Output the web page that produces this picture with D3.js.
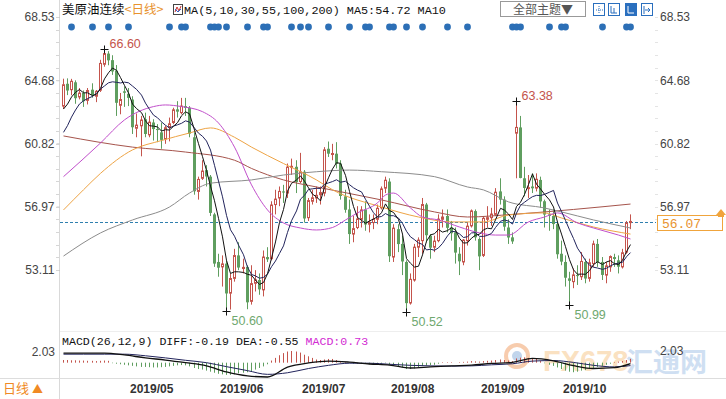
<!DOCTYPE html>
<html>
<head>
<meta charset="utf-8">
<script src="https://cdn.jsdelivr.net/npm/d3@7"></script>
<style>
  body { margin: 0; background: #fff; }
  svg { display: block; }
</style>
</head>
<body>
<div id="chart"></div>
<script>
// ---- data: WTI daily candles 2019-04-08 .. 2019-10-24 ----
const opens = [
  63.10,64.46,64.10,64.55,63.66,63.90,63.45,64.10,63.70,64.07,
  65.65,66.30,65.90,65.26,63.15,64.00,63.85,63.50,61.75,61.90,
  62.30,61.35,62.10,61.70,61.50,61.10,61.80,62.10,62.90,62.70,
  63.10,63.00,61.20,57.90,58.70,59.20,58.80,56.50,53.60,53.30,
  53.50,51.70,52.60,54.00,53.20,53.30,51.20,52.30,52.50,51.90,
  53.90,53.80,57.10,57.50,57.90,57.80,59.40,59.40,58.50,59.10,
  56.30,57.30,57.50,57.70,57.80,60.50,60.20,60.20,59.60,57.60,
  56.80,55.30,55.70,56.20,56.80,55.90,56.00,56.20,56.90,58.10,
  58.50,53.90,55.60,54.70,53.60,51.10,52.50,54.50,54.90,57.10,
  55.20,54.50,54.90,56.20,56.40,55.70,55.40,54.10,53.60,54.90,
  55.80,56.70,55.00,54.00,56.20,56.30,56.50,57.90,57.40,55.70,
  55.10,61.45,61.80,58.70,58.10,58.20,58.10,58.60,57.30,56.50,
  56.40,55.90,54.10,53.60,52.60,52.40,52.80,52.70,53.60,52.60,
  53.50,54.70,53.60,52.80,53.30,53.90,53.70,53.30,54.20,56.00
];
const highs = [
  64.77,64.79,64.76,64.67,64.20,64.05,64.20,64.49,64.08,65.92,
  66.60,66.45,66.20,65.60,63.90,64.30,64.20,63.70,62.65,62.50,
  62.70,62.50,62.30,62.00,62.10,61.90,62.40,63.00,63.40,63.60,
  63.60,63.10,61.50,58.80,59.80,59.50,58.90,56.60,54.10,54.00,
  53.70,52.90,54.40,54.80,53.80,53.40,53.40,53.10,52.90,54.30,
  54.50,57.30,58.00,58.20,58.30,59.60,59.90,59.80,60.25,59.20,
  57.50,58.00,58.20,58.20,60.60,60.94,60.80,60.90,59.80,58.00,
  57.40,56.40,57.00,57.00,57.30,56.50,56.50,57.10,58.20,58.80,
  58.70,55.90,55.90,55.20,53.70,52.90,54.70,55.10,57.50,57.20,
  55.30,55.20,56.50,56.80,56.80,56.10,55.70,54.50,55.00,56.00,
  56.80,56.80,55.10,56.40,57.00,56.90,58.10,58.70,57.60,56.20,
  55.40,63.38,62.50,59.40,58.90,59.00,59.00,58.80,57.40,56.80,
  56.80,56.00,54.90,54.00,53.00,53.20,53.40,54.20,53.80,53.80,
  54.90,55.00,53.90,53.60,54.00,54.10,54.00,54.40,56.10,56.50
];
const lows = [
  62.92,63.77,63.76,63.24,63.51,63.05,63.20,63.61,63.34,63.96,
  65.50,65.59,65.00,62.50,62.60,63.05,63.10,61.40,61.20,60.04,
  61.20,61.20,61.00,60.90,60.50,60.80,60.95,62.00,62.40,62.60,
  62.50,61.20,57.70,57.40,58.60,58.20,56.40,53.30,52.70,52.10,
  50.60,50.70,52.40,53.10,52.90,50.72,51.00,51.80,51.60,51.50,
  53.60,53.70,56.50,57.00,57.20,57.50,58.90,57.80,58.40,56.00,
  56.10,57.10,57.20,57.10,57.60,60.00,59.80,59.30,57.40,56.60,
  54.70,54.80,55.60,55.70,55.50,55.40,55.60,55.90,56.80,57.80,
  53.60,53.60,54.20,52.80,50.52,51.00,52.40,53.90,54.10,54.80,
  53.80,54.20,54.80,55.70,55.40,54.90,53.50,52.80,53.40,54.60,
  55.70,54.90,53.10,53.90,55.70,55.80,56.40,57.10,55.50,54.70,
  54.70,58.70,58.70,57.60,57.50,57.80,57.90,56.90,55.70,55.50,
  55.60,53.80,53.40,52.10,50.99,52.00,52.20,52.50,52.30,52.40,
  53.30,53.30,52.50,52.30,53.00,53.30,52.90,53.20,54.10,55.60
];
const closes = [
  64.40,64.05,64.61,63.58,63.89,63.40,64.05,63.76,64.00,65.70,
  66.30,65.89,65.21,63.30,63.50,63.91,63.60,61.81,61.94,62.25,
  61.40,62.12,61.70,61.66,61.04,61.78,62.02,62.87,62.76,63.10,
  62.99,61.42,57.91,58.63,59.14,58.81,56.59,53.50,53.25,53.48,
  51.68,52.59,53.99,53.26,53.27,51.14,52.28,52.51,51.93,53.90,
  53.76,57.07,57.43,57.90,57.83,59.38,59.43,58.47,59.09,56.25,
  57.34,57.51,57.66,57.83,60.43,60.20,60.21,59.58,57.62,56.78,
  55.30,55.63,56.22,56.77,55.88,56.02,56.20,56.87,58.05,58.58,
  53.95,55.66,54.69,53.63,51.09,52.54,54.50,54.93,57.10,55.23,
  54.47,54.87,56.21,56.34,55.68,55.35,54.17,53.64,54.93,55.78,
  56.71,55.10,53.94,56.26,56.30,56.52,57.85,57.40,55.75,55.09,
  54.85,61.80,58.72,58.11,58.13,58.09,58.64,57.29,56.49,56.41,
  55.91,54.07,53.62,52.64,52.45,52.81,52.75,53.63,52.59,53.55,
  54.70,53.59,52.81,53.36,53.93,53.78,53.31,54.16,55.97,56.07
];

// moving averages
const ma5 = [
  62.92,63.22,63.65,63.94,64.11,63.91,63.91,63.74,63.82,64.18,
  64.76,65.13,65.42,65.28,64.84,64.36,63.90,63.22,62.95,62.70,
  62.20,61.90,61.88,61.83,61.58,61.66,61.64,61.87,62.09,62.51,
  62.75,62.63,61.64,60.81,60.02,59.18,58.22,57.33,56.26,55.13,
  53.70,52.90,53.00,53.00,52.96,52.85,52.79,52.49,52.23,52.35,
  52.88,53.83,54.82,56.01,56.80,57.92,58.39,58.60,58.84,58.52,
  58.12,57.73,57.57,57.32,58.15,58.73,59.27,59.65,59.61,58.88,
  57.90,56.98,56.31,56.14,55.96,56.10,56.22,56.35,56.60,57.14,
  56.73,56.62,56.19,55.30,53.80,53.52,53.29,53.34,54.03,54.86,
  55.25,55.32,55.58,55.42,55.51,55.69,55.55,55.04,54.75,54.77,
  55.05,55.23,55.29,55.56,55.66,55.62,56.17,56.87,56.76,56.52,
  56.19,56.98,57.24,57.71,58.32,58.97,58.34,58.05,57.73,57.38,
  56.95,56.03,55.30,54.53,53.74,53.12,52.85,52.86,52.85,53.07,
  53.44,53.61,53.45,53.60,53.68,53.49,53.44,53.71,54.23,54.66
];
const ma10 = [
  61.50,61.91,62.43,62.86,63.23,63.42,63.56,63.69,63.88,64.14,
  64.33,64.52,64.58,64.55,64.51,64.56,64.52,64.32,64.12,63.77,
  63.28,62.90,62.55,62.39,62.14,61.93,61.77,61.88,61.96,62.05,
  62.20,62.13,61.76,61.45,61.26,60.97,60.42,59.49,58.53,57.57,
  56.44,55.56,55.17,54.63,54.04,53.28,52.84,52.75,52.61,52.66,
  52.86,53.31,53.66,54.12,54.58,55.40,56.11,56.71,57.43,57.66,
  58.02,58.06,58.09,58.08,58.34,58.42,58.50,58.61,58.46,58.52,
  58.31,58.12,57.98,57.87,57.42,57.00,56.60,56.33,56.37,56.55,
  56.42,56.42,56.27,55.95,55.47,55.13,54.96,54.76,54.67,54.33,
  54.38,54.31,54.46,54.73,55.19,55.47,55.44,55.31,55.09,55.14,
  55.37,55.39,55.16,55.16,55.22,55.34,55.70,56.08,56.16,56.09,
  55.91,56.58,57.05,57.24,57.42,57.58,57.66,57.65,57.72,57.85,
  57.96,57.19,56.68,56.13,55.56,55.03,54.44,54.08,53.69,53.40,
  53.28,53.23,53.15,53.22,53.37,53.47,53.53,53.58,53.92,54.17
];
// slower averages, sampled as [candle index, value]
const ma30 = [[0,58.80],[9,60.85],[15,62.26],[22,63.07],[25,63.17],[29,63.07],[34,62.76],[38,62.07],[42,60.6],[46,58.3],[50,56.77],[54,55.98],[58,55.67],[62,55.55],[66,55.7],[69,56.16],[72,56.59],[77,57.2],[79,57.68],[81,57.8],[85,56.89],[88,56.34],[92,56.16],[97,55.73],[102,55.37],[106,55.24],[109,55.24],[114,56.04],[118,56.34],[121,56.59],[126,55.98],[130,55.67],[136,55.24],[139,55.0]];
const ma55 = [[0,56.77],[5,58.0],[9,59.0],[17,60.43],[24,61.0],[31,61.46],[36,61.77],[42,61.2],[46,60.6],[54,59.6],[62,58.6],[66,58.0],[78,56.95],[87,56.34],[95,56.04],[103,56.04],[109,56.46],[118,56.59],[122,56.28],[130,55.73],[139,55.3]];
const ma100 = [[0,53.96],[9,55.37],[17,56.16],[26,56.95],[31,57.8],[36,58.4],[46,58.6],[54,58.9],[62,59.1],[70,59.2],[78,59.1],[91,58.8],[99,58.17],[103,57.99],[109,57.26],[118,56.89],[122,56.65],[130,56.16],[139,55.67]];
const ma200 = [[0,61.28],[17,60.6],[30,60.3],[42,59.8],[46,59.3],[54,58.6],[62,58.17],[78,57.38],[91,56.65],[99,56.34],[110,56.5],[125,56.8],[139,57.13]];

// MACD(26,12,9)
const macdIdx = [0,5,10,15,20,25,30,35,40,45,50,55,60,65,70,75,80,85,90,95,100,105,110,115,120,125,130,135,139];
const diffVals = [1.8,1.8,1.8,1.45,0.9,0.5,0.0,-0.6,-1.75,-2.5,-2.7,-0.85,-0.05,0.3,0.1,-0.25,-0.45,-1.0,-0.8,-0.6,-0.45,-0.15,0.05,0.8,0.35,-0.55,-1.1,-0.95,-0.19];
const deaVals = [1.6,1.6,1.6,1.6,1.3,0.9,0.45,0.0,-0.75,-1.5,-2.2,-1.9,-1.1,-0.5,-0.1,-0.1,-0.3,-0.5,-0.6,-0.65,-0.6,-0.4,-0.2,0.3,0.4,0.05,-0.5,-0.8,-0.55];
const macdHist = [
  0.5,0.5,0.45,0.45,0.4,0.4,0.35,0.35,0.3,0.35,0.4,0.35,
  -0.1,-0.2,-0.3,-0.4,-0.5,-0.6,-0.7,-0.8,-0.8,-0.85,-0.9,-0.9,-0.85,-0.8,-0.7,-0.6,-0.5,-0.45,-0.5,
  -0.7,-1.0,-1.2,-1.3,-1.5,-1.7,-1.9,-2.1,-2.2,-2.3,-2.3,-2.2,-2.0,-1.9,-1.8,-1.6,-1.3,-1.0,-0.7,-0.3,
  0.4,0.9,1.4,1.8,2.1,2.2,2.1,1.9,1.5,1.2,0.9,0.6,
  0.5,0.6,0.7,0.7,0.5,0.3,0.1,-0.1,-0.2,-0.2,-0.2,-0.25,-0.3,
  -0.3,-0.3,-0.2,-0.1,-0.4,-0.5,
  -0.7,-0.9,-1.2,-1.2,-1.1,-0.9,-0.6,-0.5,-0.5,-0.4,-0.2,
  0.1,0.1,0.1,0.0,0.1,0.15,0.2,0.3,0.25,0.2,0.3,0.35,0.4,
  0.5,0.6,0.5,0.4,0.3,0.8,0.95,1.0,0.9,0.8,0.7,
  0.3,-0.1,-0.4,-0.6,-0.9,-1.2,-1.5,-1.7,-1.8,-1.7,-1.5,-1.4,-1.2,-1.0,-0.8,
  -0.6,-0.4,-0.2,0.1,0.2,0.3,0.5,
  0.73
];

const priceTicks = [68.53, 64.68, 60.82, 56.97, 53.11];
const monthTicks = [
  { label: '2019/05', i: 16 }, { label: '2019/06', i: 38 }, { label: '2019/07', i: 58 },
  { label: '2019/08', i: 80 }, { label: '2019/09', i: 102 }, { label: '2019/10', i: 122 }
];
const extremes = [
  { i: 10, v: 66.60, kind: 'high' }, { i: 111, v: 63.38, kind: 'high' },
  { i: 40, v: 50.60, kind: 'low' }, { i: 84, v: 50.52, kind: 'low' }, { i: 124, v: 50.99, kind: 'low' }
];
const newsDots = [2,7,11,16,26,29,30,36,37,38,40,45,49,50,56,58,60,65,70,74,75,80,81,84,88,94,99,110,111,112,119,122,123,132,138,139];
const lastPrice = 56.07;

// ---- drawing ----
const W = 726, H = 399;
const N = closes.length;
const RED = '#c4544c', GREEN = '#5f9e5f';
const sans = 'Arial, "Liberation Sans", sans-serif';
const mono = '"Liberation Mono", "DejaVu Sans Mono", monospace';
const cjk = '"Noto Sans CJK SC", sans-serif';

const svg = d3.select('#chart').append('svg')
  .attr('width', W).attr('height', H)
  .style('font-family', sans);

const x = d3.scaleBand().domain(d3.range(N)).range([60.96, 632.16]);
const cx = i => Math.round(x(i) + x.bandwidth() / 2);
const y = d3.scaleLinear().domain([53.11, 68.53]).range([270, 17]);
const ym = d3.scaleLinear().domain([-3, 2.03]).range([378.6, 351.9]);

// frame lines
svg.append('line').attr('x1', 59.5).attr('x2', 59.5).attr('y1', 0).attr('y2', H).attr('stroke', '#d9d9d9');
svg.append('line').attr('x1', 60).attr('x2', W).attr('y1', 331.5).attr('y2', 331.5).attr('stroke', '#eeeeee');
svg.append('line').attr('x1', 0).attr('x2', W).attr('y1', 378.5).attr('y2', 378.5).attr('stroke', '#dddddd');

// watermark
const wm = svg.append('g').attr('opacity', 0.55);
wm.append('circle').attr('cx', 517).attr('cy', 356).attr('r', 11).attr('fill', 'none').attr('stroke', '#f2a36b').attr('stroke-width', 4);
wm.append('circle').attr('cx', 517).attr('cy', 356).attr('r', 5).attr('fill', '#8fb3dd');
wm.append('text').attr('x', 543).attr('y', 371).text('FX678')
  .attr('font-size', 29).attr('font-weight', 'bold').attr('fill', '#f7c98f').attr('font-family', sans);
wm.append('text').attr('x', 626).attr('y', 372).text('汇通网')
  .attr('font-size', 27).attr('font-weight', 'bold').attr('fill', '#a9c6e8').attr('font-family', cjk);

// price axes
const leftAxis = svg.append('g').attr('transform', 'translate(59.5,0)')
  .call(d3.axisLeft(y).tickValues(priceTicks).tickSize(3).tickPadding(2).tickFormat(d3.format('.2f')));
leftAxis.select('.domain').remove();
leftAxis.selectAll('line').attr('stroke', '#bbb');
leftAxis.selectAll('text').attr('font-size', 12).attr('fill', '#444').attr('font-family', sans);

const minor = d3.range(0, 21).map(k => 53.11 + (68.53 - 53.11) * k / 20);
svg.append('g').selectAll('line').data(minor).join('line')
  .attr('x1', 56).attr('x2', 59).attr('y1', d => Math.round(y(d)) + 0.5).attr('y2', d => Math.round(y(d)) + 0.5)
  .attr('stroke', '#d6d6d6');
svg.append('g').selectAll('line').data(minor).join('line')
  .attr('x1', 655).attr('x2', 658).attr('y1', d => Math.round(y(d)) + 0.5).attr('y2', d => Math.round(y(d)) + 0.5)
  .attr('stroke', '#e4e4e4');

const rightAxis = svg.append('g').attr('transform', 'translate(655,0)')
  .call(d3.axisRight(y).tickValues(priceTicks).tickSize(0).tickPadding(5).tickFormat(d3.format('.2f')));
rightAxis.select('.domain').remove();
rightAxis.selectAll('text').attr('font-size', 12).attr('fill', '#444').attr('font-family', sans);

// last price dashed line
svg.append('line')
  .attr('x1', 60).attr('x2', 656)
  .attr('y1', Math.round(y(lastPrice)) + 1.5).attr('y2', Math.round(y(lastPrice)) + 1.5)
  .attr('stroke', '#2f7fae').attr('stroke-dasharray', '3,2');

// candles
const candles = svg.append('g');
const c = candles.selectAll('g').data(d3.range(N)).join('g');
c.append('line')
  .attr('x1', i => cx(i) + 0.5).attr('x2', i => cx(i) + 0.5)
  .attr('y1', i => y(highs[i])).attr('y2', i => y(lows[i]))
  .attr('stroke', i => closes[i] >= opens[i] ? RED : GREEN);
c.append('rect')
  .attr('x', i => closes[i] >= opens[i] ? cx(i) - 0.5 : cx(i) - 1)
  .attr('width', i => closes[i] >= opens[i] ? 2 : 3)
  .attr('y', i => y(Math.max(opens[i], closes[i])))
  .attr('height', i => Math.max(1, y(Math.min(opens[i], closes[i])) - y(Math.max(opens[i], closes[i]))))
  .attr('fill', i => closes[i] >= opens[i] ? '#fff' : GREEN)
  .attr('stroke', i => closes[i] >= opens[i] ? RED : 'none');

// moving averages
const fullLine = d3.line().x((d, i) => cx(i) + 0.5).y(d => y(d));
const sparseLine = d3.line().x(d => cx(d[0]) + 0.5).y(d => y(d[1])).curve(d3.curveMonotoneX);
const maLayer = svg.append('g').attr('fill', 'none').attr('stroke-width', 1);
maLayer.append('path').attr('d', sparseLine(ma200)).attr('stroke', '#a6544c');
maLayer.append('path').attr('d', sparseLine(ma100)).attr('stroke', '#8c8c8c');
maLayer.append('path').attr('d', sparseLine(ma55)).attr('stroke', '#eea445');
maLayer.append('path').attr('d', sparseLine(ma30)).attr('stroke', '#c14fcb');
maLayer.append('path').attr('d', fullLine(ma10)).attr('stroke', '#22245c');
maLayer.append('path').attr('d', fullLine(ma5)).attr('stroke', '#111');

// extremes
const ex = svg.append('g');
extremes.forEach(e => {
  const px = cx(e.i) + 0.5, py = Math.round(y(e.v)) + 0.5;
  ex.append('line').attr('x1', px - 4).attr('x2', px + 4).attr('y1', py).attr('y2', py).attr('stroke', '#111');
  ex.append('line').attr('x1', px).attr('x2', px).attr('y1', py - 4).attr('y2', py + 4).attr('stroke', '#111');
  ex.append('text')
    .attr('x', px + 5).attr('y', e.kind === 'high' ? py - 2 : py + 13)
    .attr('font-size', 12.5).attr('fill', e.kind === 'high' ? '#c4544c' : '#6fa86f')
    .text(e.v.toFixed(2));
});

// news dots
svg.append('g').selectAll('circle').data(newsDots).join('circle')
  .attr('cx', i => cx(i) + 0.5).attr('cy', 27).attr('r', 3.4).attr('fill', '#2c6fb6');

// header
const hdr = svg.append('text').attr('x', 62).attr('y', 14).attr('font-size', 12.5).attr('font-family', cjk);
hdr.append('tspan').attr('fill', '#111').text('美原油连续');
hdr.append('tspan').attr('fill', '#e8922e').text('<日线>');
svg.append('rect').attr('x', 173.5).attr('y', 4.5).attr('width', 9).attr('height', 10).attr('fill', '#fff').attr('stroke', '#444');
svg.append('polyline').attr('points', '175,12 177,7 179,11 181,6').attr('fill', 'none').attr('stroke', '#c33');
svg.append('polyline').attr('points', '175,9 178,12 181,9').attr('fill', 'none').attr('stroke', '#36c');
svg.append('text').attr('x', 184).attr('y', 14).attr('font-size', 11.8).attr('font-family', mono).attr('fill', '#111')
  .text('MA(5,10,30,55,100,200) MA5:54.72 MA10');

svg.append('rect').attr('x', 500.5).attr('y', 1.5).attr('width', 85).attr('height', 15).attr('fill', '#fff').attr('stroke', '#999');
svg.append('text').attr('x', 543).attr('y', 13.5).attr('text-anchor', 'middle').attr('font-size', 12).attr('font-family', cjk).attr('fill', '#555').text('全部主题▼');
const icons = [593, 608, 625, 641];
icons.forEach((ix, k) => {
  svg.append('rect').attr('x', ix + 0.5).attr('y', 3.5).attr('width', 11).attr('height', 12)
    .attr('fill', k === 2 ? '#2a6fbe' : '#fff').attr('stroke', '#2a6fbe');
});
svg.append('path').attr('d', 'M599,6v8M596,10h7').attr('stroke', '#2a6fbe').attr('stroke-dasharray', '1,1');
svg.append('path').attr('d', 'M611,6v7h6M614,8v5').attr('stroke', '#2a6fbe').attr('fill', 'none');
svg.append('path').attr('d', 'M628,6v7h6').attr('stroke', '#fff').attr('fill', 'none');
svg.append('path').attr('d', 'M644,6v8M645,10h5M648,8l2,2l-2,2').attr('stroke', '#2a6fbe').attr('fill', 'none');

// last price tag
svg.append('rect').attr('x', 657.5).attr('y', 215.5).attr('width', 65).attr('height', 15).attr('fill', '#fff').attr('stroke', '#f0a43c');
svg.append('text').attr('x', 662).attr('y', 227.5).attr('font-size', 13).attr('font-family', mono).attr('fill', '#e8922e').text(lastPrice.toFixed(2));
svg.append('path').attr('d', 'M716,215 L721,209 L726,215 Z').attr('fill', '#f0a43c');
svg.append('rect').attr('x', 718).attr('y', 215).attr('width', 6).attr('height', 2).attr('fill', '#f0a43c');

// MACD pane
const histG = svg.append('g');
histG.selectAll('line').data(macdHist).join('line')
  .attr('x1', (d, i) => cx(i) + 0.5).attr('x2', (d, i) => cx(i) + 0.5)
  .attr('y1', ym(0)).attr('y2', d => ym(d))
  .attr('stroke', d => d >= 0 ? RED : GREEN);
const macdLine = vals => d3.line().x((d, k) => cx(macdIdx[k]) + 0.5).y(d => ym(d)).curve(d3.curveMonotoneX)(vals);
svg.append('path').attr('d', macdLine(deaVals)).attr('fill', 'none').attr('stroke', '#22245c');
svg.append('path').attr('d', macdLine(diffVals)).attr('fill', 'none').attr('stroke', '#111').attr('stroke-width', 1.3);

const mt = svg.append('text').attr('x', 62).attr('y', 345).attr('font-size', 11.6).attr('font-family', mono);
mt.append('tspan').attr('fill', '#111').text('MACD(26,12,9) DIFF:-0.19 DEA:-0.55 ');
mt.append('tspan').attr('fill', '#d22ad2').text('MACD:0.73');
svg.append('text').attr('x', 55).attr('y', 356).attr('text-anchor', 'end').attr('font-size', 12).attr('fill', '#444').text('2.03');
svg.append('text').attr('x', 660).attr('y', 355).attr('font-size', 12).attr('fill', '#444').text('2.03');

// date axis
svg.append('g').selectAll('text').data(monthTicks).join('text')
  .attr('x', d => cx(d.i) + 2).attr('y', 393)
  .attr('font-size', 12).attr('font-weight', 'bold').attr('fill', '#333')
  .text(d => d.label);

const foot = svg.append('text').attr('x', 3).attr('y', 393).attr('font-size', 13).attr('font-family', cjk).attr('fill', '#f08a24');
foot.append('tspan').text('日线 ');
foot.append('tspan').attr('font-size', 11).text('▲');
</script>
</body>
</html>
